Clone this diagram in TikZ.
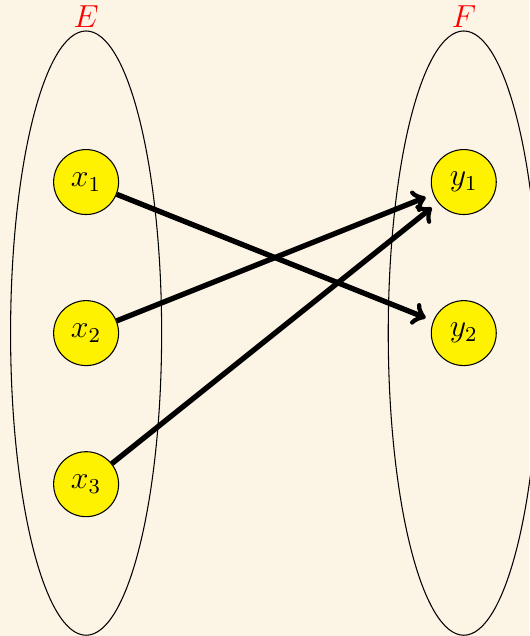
\documentclass[tikz,border=0pt]{standalone}
\definecolor{fond}{RGB}{252,245,230}
\tikzset{
  elt/.style={circle, draw, fill=yellow, minimum size=0.86cm, inner sep=0pt, font=\large},
  fleche/.style={line width=2pt, ->, shorten >=3pt}
}
\begin{document}
\begin{tikzpicture}
	% fond
	\fill[fond] (-1.14,-6.01) rectangle (5.87,2.41);
	\useasboundingbox (-1.14,-6.01) rectangle (5.87,2.41);
	
		% les ensembles
		\draw (0,-2) ellipse (1 and 4);
		\draw (5,-2) ellipse (1 and 4);
		\node[above, red, inner sep=1pt, font=\large] (E) at (0,2) {$E$};
		\node[above, red, inner sep=1pt, font=\large] (F) at (5,2) {$F$};
		
		% les elements
		\node[elt] (x1) at (0,0) {$x_1$};
		\node[elt] (x2) at (0,-2) {$x_2$};
		\node[elt] (x3) at (0,-4) {$x_3$};
		\node[elt] (y1) at (5,0) {$y_1$};
		\node[elt] (y2) at (5,-2) {$y_2$};
		
		% les fleches
		\draw[fleche] (x1) -- (y2);
		\draw[fleche] (x2) -- (y1);
		\draw[fleche] (x3) -- (y1);
		
\end{tikzpicture}
\end{document}
